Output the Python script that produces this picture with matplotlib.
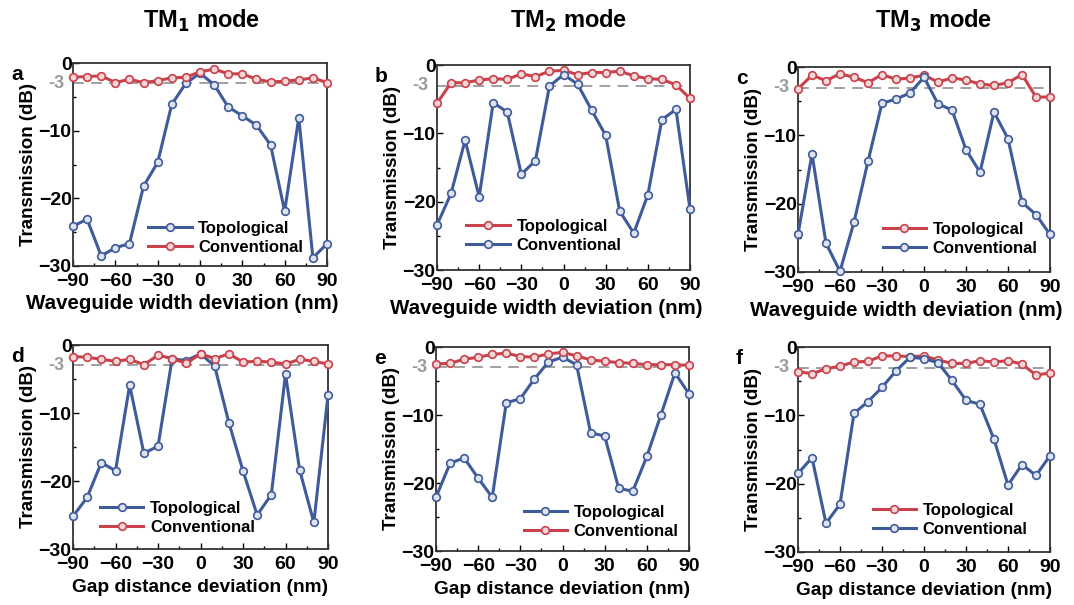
import matplotlib.pyplot as plt
from matplotlib.ticker import MultipleLocator

plt.rcParams['font.family'] = ['Liberation Sans', 'DejaVu Sans']
plt.rcParams['font.weight'] = 'bold'

x = [-90, -80, -70, -60, -50, -40, -30, -20, -10, 0, 10, 20, 30, 40, 50, 60, 70, 80, 90]

# panel a (TM1, width)
a_blue = [-24.1, -23.1, -28.5, -27.3, -26.7, -18.2, -14.7, -6.1, -3.0, -1.5,
          -3.2, -6.5, -7.8, -9.2, -12.1, -21.9, -8.1, -28.8, -26.7]
a_red = [-2.1, -2.0, -1.9, -2.9, -2.4, -2.9, -2.6, -2.2, -2.1, -1.3,
         -0.9, -1.6, -1.6, -2.4, -2.8, -2.7, -2.5, -2.2, -2.9]
# panel b (TM2, width)
b_red = [-5.6, -2.6, -2.6, -2.2, -2.0, -2.1, -1.3, -1.7, -0.9, -0.8,
         -1.4, -1.1, -1.1, -0.9, -1.6, -2.0, -2.1, -2.9, -4.9]
b_blue = [-23.4, -18.8, -11.0, -19.3, -5.5, -6.9, -16.0, -14.0, -3.1, -1.4,
          -2.8, -6.6, -10.3, -21.4, -24.6, -19.0, -8.0, -6.5, -21.1]
# panel c (TM3, width)
c_red = [-3.2, -1.2, -2.0, -1.0, -1.5, -2.3, -1.1, -1.8, -1.6, -1.2,
         -2.2, -1.6, -1.9, -2.5, -2.7, -2.3, -1.1, -4.4, -4.4]
c_blue = [-24.5, -12.7, -25.8, -29.9, -22.7, -13.8, -5.3, -4.7, -3.8, -1.5,
          -5.4, -6.3, -12.1, -15.4, -6.6, -10.5, -19.8, -21.6, -24.5]
# panel d (TM1, gap)
d_blue = [-25.2, -22.4, -17.3, -18.5, -5.9, -15.9, -14.9, -2.0, -2.3, -1.3,
          -3.1, -11.4, -18.5, -25.0, -22.0, -4.3, -18.4, -26.1, -7.4]
d_red = [-1.7, -1.8, -2.1, -2.4, -2.1, -2.9, -1.5, -2.0, -2.7, -1.3,
         -2.0, -1.3, -2.5, -2.4, -2.5, -2.8, -2.1, -2.4, -2.8]
# panel e (TM2, gap)
e_blue = [-22.1, -17.1, -16.3, -19.3, -22.1, -8.2, -7.6, -4.7, -2.2, -1.5,
          -2.6, -12.6, -13.1, -20.8, -21.2, -16.1, -10.0, -3.8, -6.9]
e_red = [-2.5, -2.4, -1.8, -1.5, -1.1, -0.9, -1.4, -1.5, -1.0, -0.8,
         -1.3, -1.9, -2.1, -2.3, -2.4, -2.6, -2.6, -2.6, -2.7]
# panel f (TM3, gap)
f_red = [-3.6, -3.9, -3.2, -2.8, -2.2, -2.1, -1.3, -1.3, -1.4, -1.3,
         -1.9, -2.4, -2.4, -2.0, -2.2, -2.0, -2.5, -4.1, -3.8]
f_blue = [-18.5, -16.2, -25.8, -23.0, -9.7, -8.0, -5.9, -3.5, -1.5, -1.7,
          -2.3, -4.9, -7.8, -8.4, -13.5, -20.2, -17.2, -18.8, -15.9]

BLUE = '#3f5b9a'
RED = '#c8414b'

W, H = 1074, 605
fig = plt.figure(figsize=(W / 100, H / 100), dpi=100)

# pixel boxes: left, top, right, bottom
boxes = [(73, 63, 327, 266), (437, 65, 690, 270), (798, 67, 1050, 272),
         (73, 345, 328, 549), (436, 347, 689, 551), (798, 347, 1050, 552)]

panels = [
    ('a', [(a_blue, BLUE, 'Topological'), (a_red, RED, 'Conventional')], 'Waveguide width deviation (nm)', (0.27, 0.02)),
    ('b', [(b_red, RED, 'Topological'), (b_blue, BLUE, 'Conventional')], 'Waveguide width deviation (nm)', (0.09, 0.05)),
    ('c', [(c_red, RED, 'Topological'), (c_blue, BLUE, 'Conventional')], 'Waveguide width deviation (nm)', (0.31, 0.045)),
    ('d', [(d_blue, BLUE, 'Topological'), (d_red, RED, 'Conventional')], 'Gap distance deviation (nm)', (0.08, 0.035)),
    ('e', [(e_blue, BLUE, 'Topological'), (e_red, RED, 'Conventional')], 'Gap distance deviation (nm)', (0.32, 0.025)),
    ('f', [(f_red, RED, 'Topological'), (f_blue, BLUE, 'Conventional')], 'Gap distance deviation (nm)', (0.27, 0.04)),
]

for i, ((l, t, r, b), (letter, series, xlabel, legpos)) in enumerate(zip(boxes, panels)):
    ax = fig.add_axes([l / W, 1 - b / H, (r - l) / W, (b - t) / H])
    handles = []
    for ys, col, lab in series:
        h, = ax.plot(x, ys, '-o', color=col, lw=2.2, ms=5.5, mfc='#dfe3ee' if col == BLUE else '#f2d6d8',
                     mec=col, mew=1.2, label=lab, clip_on=False, zorder=3)
        handles.append(h)
    ax.axhline(-3, color='#999999', lw=1.3, ls=(0, (6, 4)), zorder=1)
    ax.set_xlim(-90, 90)
    ax.set_ylim(-30, 0)
    ax.xaxis.set_major_locator(MultipleLocator(30))
    ax.xaxis.set_minor_locator(MultipleLocator(15))
    ax.yaxis.set_major_locator(MultipleLocator(10))
    ax.yaxis.set_minor_locator(MultipleLocator(5))
    ax.tick_params(which='both', direction='in', width=1.0)
    ax.tick_params(which='major', length=4, labelsize=14, pad=1)
    ax.tick_params(axis='x', which='major', pad=5)
    ax.tick_params(which='minor', length=2.5)
    for lbl in ax.get_xticklabels() + ax.get_yticklabels():
        lbl.set_fontweight('bold')
    for s in ax.spines.values():
        s.set_linewidth(1.3)
        s.set_color('#333333')
    ax.text(-0.035, 0.9, '-3', transform=ax.transAxes, ha='right', va='center',
            color='#9a9a9a', fontsize=13, fontweight='bold')
    ax.set_ylabel('Transmission (dB)', fontsize=13.5, fontweight='bold', labelpad=1)
    if i < 3:
        ax.set_xlabel(xlabel, fontsize=14.8, fontweight='bold')
        ax.xaxis.set_label_coords(0.43, -0.14)
    else:
        ax.set_xlabel(xlabel, fontsize=13.8, fontweight='bold')
        ax.xaxis.set_label_coords(0.5, -0.145)
    ax.legend(handles=handles, loc='lower left', bbox_to_anchor=legpos, frameon=False,
              fontsize=12, handlelength=2.6, handletextpad=0.4, labelspacing=0.25, borderaxespad=0)
    fig.text((l - 62) / W, 1 - (t + 12) / H, letter, fontsize=15, fontweight='bold',
             ha='left', va='center')

for cx, name in [(202, 'TM$_\\mathbf{1}$ mode'), (569, 'TM$_\\mathbf{2}$ mode'), (934, 'TM$_\\mathbf{3}$ mode')]:
    fig.text(cx / W, 1 - 21 / H, name, fontsize=17, fontweight='bold', ha='center', va='center')

fig.savefig('out.png', dpi=100)
